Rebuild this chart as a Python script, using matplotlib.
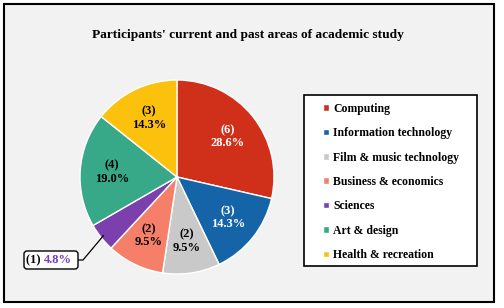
import numpy as np
import matplotlib
matplotlib.use('Agg')
import matplotlib.pyplot as plt
from matplotlib.patches import Rectangle, FancyBboxPatch
from matplotlib.lines import Line2D

plt.rcParams['font.family'] = ['Liberation Serif', 'DejaVu Serif']
plt.rcParams['font.weight'] = 'bold'

TITLE = "Participants' current and past areas of academic study"
categories = ['Computing', 'Information technology', 'Film & music technology',
              'Business & economics', 'Sciences', 'Art & design', 'Health & recreation']
counts = [6, 3, 2, 2, 1, 4, 3]
colors = ['#d0301a', '#1664a8', '#c9c9c9', '#f57f68', '#7b3fae', '#37a888', '#fcc10c']
label_colors = ['white', 'white', 'black', 'black', 'black', 'black', 'black']

W, H = 504, 308
fig = plt.figure(figsize=(W / 100, H / 100), dpi=100, facecolor='white')


def fx(x):
    return x / W


def fy(y):
    return 1 - y / H


# grey panel with black border
fig.patches.append(Rectangle((fx(4), fy(302)), fx(490), (298) / H, transform=fig.transFigure,
                             facecolor='#f2f2f2', edgecolor='black', lw=1.5, zorder=0))

fig.text(fx(248), fy(35), TITLE, ha='center', va='center', fontsize=9.6, fontweight='bold')

# pie axes: centre (177,177) px, radius 97 px
cx, cy, r = 177, 177, 97
ax = fig.add_axes([fx(cx - r), fy(cy + r), 2 * r / W, 2 * r / H])
ax.set_zorder(3)

total = sum(counts)
wedges, _ = ax.pie(counts, colors=colors, startangle=90, counterclock=False, radius=1,
                   wedgeprops=dict(edgecolor='white', linewidth=1.0))
ax.set_xlim(-1, 1)
ax.set_ylim(-1, 1)
ax.axis('off')

for i, (w, n) in enumerate(zip(wedges, counts)):
    pct = 100 * n / total
    if n == 1:
        continue
    ang = np.deg2rad((w.theta1 + w.theta2) / 2)
    d = 0.67
    ax.text(d * np.cos(ang), d * np.sin(ang), f'({n})\n{pct:.1f}%', ha='center', va='center',
            fontsize=9, fontweight='bold', color=label_colors[i], linespacing=1.15)

# callout for the small slice
i = counts.index(1)
w = wedges[i]
ang = np.deg2rad((w.theta1 + w.theta2) / 2)
p_disp = ax.transData.transform((0.97 * np.cos(ang), 0.97 * np.sin(ang)))
p_fig = fig.transFigure.inverted().transform(p_disp)
fig.add_artist(Line2D([p_fig[0], fx(83), fx(78)], [p_fig[1], fy(260), fy(260)],
                      color='black', lw=0.9, zorder=4))
fig.add_artist(FancyBboxPatch((fx(24), fy(269)), fx(54), (269 - 251) / H,
                              boxstyle='round,pad=0,rounding_size=0.006',
                              transform=fig.transFigure, fc='white', ec='black', lw=1,
                              zorder=4, mutation_aspect=W / H))
fig.text(fx(44), fy(260), f'({counts[i]}) ', ha='right', va='center', fontsize=9,
         fontweight='bold', color='black', zorder=5)
fig.text(fx(44), fy(260), f'{100 * counts[i] / total:.1f}%', ha='left', va='center',
         fontsize=9, fontweight='bold', color=colors[i], zorder=5)

# legend box
fig.patches.append(Rectangle((fx(304), fy(266)), (477 - 304) / W, (266 - 95) / H,
                             transform=fig.transFigure, facecolor='white', edgecolor='black',
                             lw=1.2, zorder=1))
leg = fig.legend(wedges, categories, loc='upper left', bbox_to_anchor=(fx(318), fy(98)),
                 frameon=False, prop=dict(weight='bold', size=8.5),
                 handlelength=0.5, handleheight=0.5, handletextpad=0.4,
                 labelspacing=1.05, borderaxespad=0)
leg.set_zorder(2)

fig.savefig('out.png', dpi=100, facecolor='white')
